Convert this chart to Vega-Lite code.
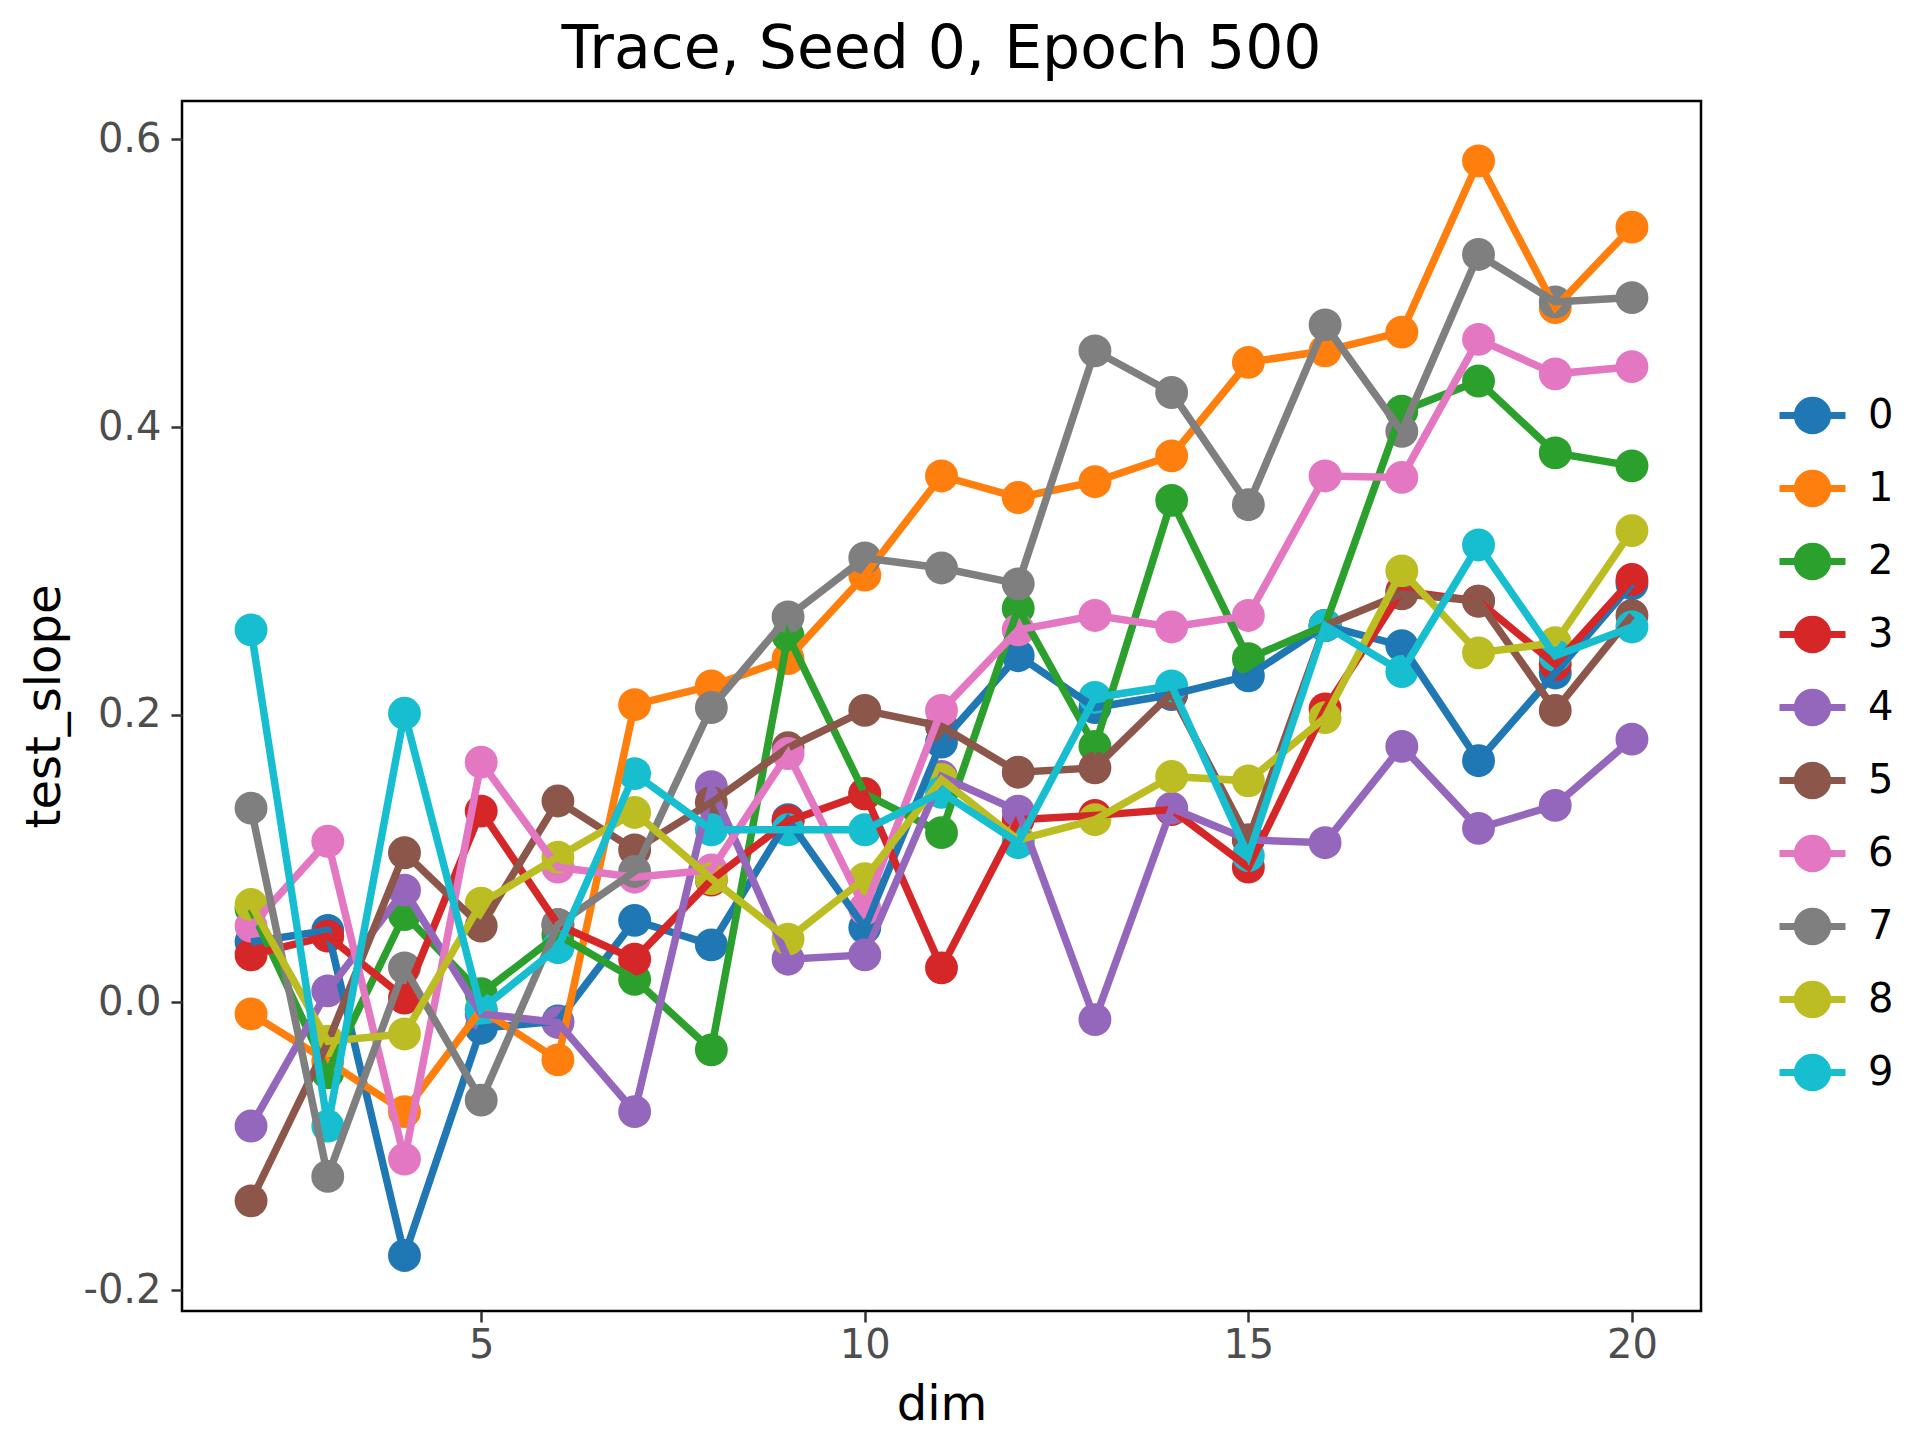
{
  "$schema": "https://vega.github.io/schema/vega-lite/v6.json",
  "autosize": {"type": "none"},
  "width": 1519,
  "height": 1210,
  "padding": {"left": 182, "top": 101, "right": 219, "bottom": 129},
  "background": "white",
  "title": {"text": "Trace, Seed 0, Epoch 500", "font": "DejaVu Sans", "fontSize": 60, "fontWeight": "normal", "color": "black", "anchor": "middle", "offset": 20},
  "config": {
    "view": {"stroke": "black", "strokeWidth": 2.5},
    "font": "DejaVu Sans"
  },
  "data": {"values": [
    {"dim":2,"series":"0","v":0.042},{"dim":3,"series":"0","v":0.050},{"dim":4,"series":"0","v":-0.176},{"dim":5,"series":"0","v":-0.018},{"dim":6,"series":"0","v":-0.013},{"dim":7,"series":"0","v":0.057},{"dim":8,"series":"0","v":0.040},{"dim":9,"series":"0","v":0.127},{"dim":10,"series":"0","v":0.052},{"dim":11,"series":"0","v":0.181},{"dim":12,"series":"0","v":0.241},{"dim":13,"series":"0","v":0.205},{"dim":14,"series":"0","v":0.214},{"dim":15,"series":"0","v":0.227},{"dim":16,"series":"0","v":0.262},{"dim":17,"series":"0","v":0.248},{"dim":18,"series":"0","v":0.168},{"dim":19,"series":"0","v":0.229},{"dim":20,"series":"0","v":0.291},
    {"dim":2,"series":"1","v":-0.008},{"dim":3,"series":"1","v":-0.041},{"dim":4,"series":"1","v":-0.076},{"dim":5,"series":"1","v":-0.005},{"dim":6,"series":"1","v":-0.040},{"dim":7,"series":"1","v":0.207},{"dim":8,"series":"1","v":0.220},{"dim":9,"series":"1","v":0.239},{"dim":10,"series":"1","v":0.297},{"dim":11,"series":"1","v":0.366},{"dim":12,"series":"1","v":0.351},{"dim":13,"series":"1","v":0.362},{"dim":14,"series":"1","v":0.380},{"dim":15,"series":"1","v":0.445},{"dim":16,"series":"1","v":0.453},{"dim":17,"series":"1","v":0.466},{"dim":18,"series":"1","v":0.585},{"dim":19,"series":"1","v":0.483},{"dim":20,"series":"1","v":0.539},
    {"dim":2,"series":"2","v":0.065},{"dim":3,"series":"2","v":-0.049},{"dim":4,"series":"2","v":0.061},{"dim":5,"series":"2","v":0.006},{"dim":6,"series":"2","v":0.047},{"dim":7,"series":"2","v":0.016},{"dim":8,"series":"2","v":-0.033},{"dim":9,"series":"2","v":0.255},{"dim":10,"series":"2","v":0.145},{"dim":11,"series":"2","v":0.118},{"dim":12,"series":"2","v":0.274},{"dim":13,"series":"2","v":0.178},{"dim":14,"series":"2","v":0.349},{"dim":15,"series":"2","v":0.239},{"dim":16,"series":"2","v":0.262},{"dim":17,"series":"2","v":0.411},{"dim":18,"series":"2","v":0.432},{"dim":19,"series":"2","v":0.382},{"dim":20,"series":"2","v":0.373},
    {"dim":2,"series":"3","v":0.033},{"dim":3,"series":"3","v":0.046},{"dim":4,"series":"3","v":0.003},{"dim":5,"series":"3","v":0.133},{"dim":6,"series":"3","v":0.054},{"dim":7,"series":"3","v":0.030},{"dim":8,"series":"3","v":0.085},{"dim":9,"series":"3","v":0.126},{"dim":10,"series":"3","v":0.145},{"dim":11,"series":"3","v":0.024},{"dim":12,"series":"3","v":0.127},{"dim":13,"series":"3","v":0.130},{"dim":14,"series":"3","v":0.134},{"dim":15,"series":"3","v":0.094},{"dim":16,"series":"3","v":0.204},{"dim":17,"series":"3","v":0.286},{"dim":18,"series":"3","v":0.279},{"dim":19,"series":"3","v":0.235},{"dim":20,"series":"3","v":0.294},
    {"dim":2,"series":"4","v":-0.086},{"dim":3,"series":"4","v":0.008},{"dim":4,"series":"4","v":0.078},{"dim":5,"series":"4","v":-0.008},{"dim":6,"series":"4","v":-0.014},{"dim":7,"series":"4","v":-0.076},{"dim":8,"series":"4","v":0.150},{"dim":9,"series":"4","v":0.030},{"dim":10,"series":"4","v":0.033},{"dim":11,"series":"4","v":0.157},{"dim":12,"series":"4","v":0.133},{"dim":13,"series":"4","v":-0.012},{"dim":14,"series":"4","v":0.135},{"dim":15,"series":"4","v":0.113},{"dim":16,"series":"4","v":0.111},{"dim":17,"series":"4","v":0.178},{"dim":18,"series":"4","v":0.121},{"dim":19,"series":"4","v":0.137},{"dim":20,"series":"4","v":0.183},
    {"dim":2,"series":"5","v":-0.138},{"dim":3,"series":"5","v":-0.028},{"dim":4,"series":"5","v":0.104},{"dim":5,"series":"5","v":0.053},{"dim":6,"series":"5","v":0.140},{"dim":7,"series":"5","v":0.106},{"dim":8,"series":"5","v":0.139},{"dim":9,"series":"5","v":0.177},{"dim":10,"series":"5","v":0.203},{"dim":11,"series":"5","v":0.192},{"dim":12,"series":"5","v":0.160},{"dim":13,"series":"5","v":0.163},{"dim":14,"series":"5","v":0.215},{"dim":15,"series":"5","v":0.113},{"dim":16,"series":"5","v":0.262},{"dim":17,"series":"5","v":0.284},{"dim":18,"series":"5","v":0.279},{"dim":19,"series":"5","v":0.203},{"dim":20,"series":"5","v":0.269},
    {"dim":2,"series":"6","v":0.053},{"dim":3,"series":"6","v":0.112},{"dim":4,"series":"6","v":-0.109},{"dim":5,"series":"6","v":0.167},{"dim":6,"series":"6","v":0.094},{"dim":7,"series":"6","v":0.087},{"dim":8,"series":"6","v":0.092},{"dim":9,"series":"6","v":0.173},{"dim":10,"series":"6","v":0.065},{"dim":11,"series":"6","v":0.203},{"dim":12,"series":"6","v":0.259},{"dim":13,"series":"6","v":0.269},{"dim":14,"series":"6","v":0.261},{"dim":15,"series":"6","v":0.269},{"dim":16,"series":"6","v":0.366},{"dim":17,"series":"6","v":0.365},{"dim":18,"series":"6","v":0.461},{"dim":19,"series":"6","v":0.437},{"dim":20,"series":"6","v":0.442},
    {"dim":2,"series":"7","v":0.135},{"dim":3,"series":"7","v":-0.121},{"dim":4,"series":"7","v":0.024},{"dim":5,"series":"7","v":-0.068},{"dim":6,"series":"7","v":0.054},{"dim":7,"series":"7","v":0.091},{"dim":8,"series":"7","v":0.205},{"dim":9,"series":"7","v":0.268},{"dim":10,"series":"7","v":0.309},{"dim":11,"series":"7","v":0.302},{"dim":12,"series":"7","v":0.291},{"dim":13,"series":"7","v":0.453},{"dim":14,"series":"7","v":0.424},{"dim":15,"series":"7","v":0.346},{"dim":16,"series":"7","v":0.471},{"dim":17,"series":"7","v":0.397},{"dim":18,"series":"7","v":0.520},{"dim":19,"series":"7","v":0.487},{"dim":20,"series":"7","v":0.490},
    {"dim":2,"series":"8","v":0.068},{"dim":3,"series":"8","v":-0.027},{"dim":4,"series":"8","v":-0.022},{"dim":5,"series":"8","v":0.069},{"dim":6,"series":"8","v":0.101},{"dim":7,"series":"8","v":0.132},{"dim":8,"series":"8","v":0.086},{"dim":9,"series":"8","v":0.044},{"dim":10,"series":"8","v":0.086},{"dim":11,"series":"8","v":0.155},{"dim":12,"series":"8","v":0.113},{"dim":13,"series":"8","v":0.127},{"dim":14,"series":"8","v":0.157},{"dim":15,"series":"8","v":0.154},{"dim":16,"series":"8","v":0.198},{"dim":17,"series":"8","v":0.300},{"dim":18,"series":"8","v":0.243},{"dim":19,"series":"8","v":0.250},{"dim":20,"series":"8","v":0.328},
    {"dim":2,"series":"9","v":0.259},{"dim":3,"series":"9","v":-0.086},{"dim":4,"series":"9","v":0.201},{"dim":5,"series":"9","v":-0.005},{"dim":6,"series":"9","v":0.038},{"dim":7,"series":"9","v":0.159},{"dim":8,"series":"9","v":0.120},{"dim":9,"series":"9","v":0.120},{"dim":10,"series":"9","v":0.120},{"dim":11,"series":"9","v":0.146},{"dim":12,"series":"9","v":0.111},{"dim":13,"series":"9","v":0.212},{"dim":14,"series":"9","v":0.220},{"dim":15,"series":"9","v":0.102},{"dim":16,"series":"9","v":0.262},{"dim":17,"series":"9","v":0.230},{"dim":18,"series":"9","v":0.318},{"dim":19,"series":"9","v":0.241},{"dim":20,"series":"9","v":0.261}
  ]},
  "encoding": {
    "x": {"field": "dim", "type": "quantitative",
      "scale": {"domain": [1.1, 20.9], "nice": false, "zero": false},
      "axis": {"values": [5, 10, 15, 20], "title": "dim", "grid": false, "domain": false,
        "tickColor": "#333333", "tickWidth": 2.5, "tickSize": 11,
        "labelFont": "DejaVu Sans", "labelFontSize": 40, "labelColor": "#4d4d4d", "labelPadding": 3,
        "titleFont": "DejaVu Sans", "titleFontSize": 48, "titleFontWeight": "normal", "titleColor": "black", "titlePadding": 16}},
    "y": {"field": "v", "type": "quantitative",
      "scale": {"domain": [-0.2146, 0.6267], "nice": false, "zero": false},
      "axis": {"values": [-0.2, 0, 0.2, 0.4, 0.6], "title": "test_slope", "grid": false, "domain": false,
        "labelExpr": "datum.value < 0 ? '-' + format(-datum.value, '.1f') : format(datum.value, '.1f')",
        "tickColor": "#333333", "tickWidth": 2.5, "tickSize": 11,
        "labelFont": "DejaVu Sans", "labelFontSize": 40, "labelColor": "#4d4d4d", "labelPadding": 10,
        "titleFont": "DejaVu Sans", "titleFontSize": 48, "titleFontWeight": "normal", "titleColor": "black", "titlePadding": 13}},
    "color": {"field": "series", "type": "nominal",
      "scale": {"domain": ["0","1","2","3","4","5","6","7","8","9"], "range": ["#1f77b4","#ff7f0e","#2ca02c","#d62728","#9467bd","#8c564b","#e377c2","#7f7f7f","#bcbd22","#17becf"]},
      "legend": {"title": null, "orient": "none", "legendX": 1594, "legendY": 278, "padding": 0,
        "symbolType": "M-1,0L1,0M0.46,0A0.46,0.46,0,1,1,-0.46,0A0.46,0.46,0,1,1,0.46,0Z",
        "symbolSize": 4356, "symbolStrokeWidth": 7, "rowPadding": 7,
        "labelFont": "DejaVu Sans", "labelFontSize": 40, "labelColor": "black", "labelOffset": 19,
        "encode": {"symbols": {"update": {"stroke": {"scale": "color", "field": "value"}, "fill": {"scale": "color", "field": "value"}, "opacity": {"value": 1}}}}}}
  },
  "layer": [
    {"mark": {"type": "point", "filled": true, "opacity": 1, "size": 1080}},
    {"mark": {"type": "line", "strokeWidth": 7.5}, "encoding": {"order": {"field": "dim"}}}
  ]
}
